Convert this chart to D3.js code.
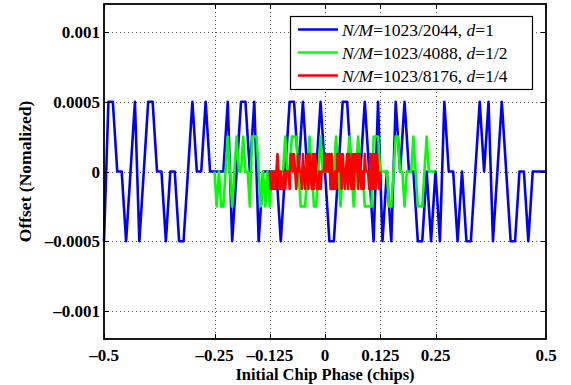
<!DOCTYPE html>
<html>
<head>
<meta charset="utf-8">
<script src="https://cdn.jsdelivr.net/npm/d3@7"></script>
<style>
  body { margin: 0; background: #fff; }
  text { font-family: "Liberation Serif", "Times New Roman", serif; }
</style>
</head>
<body>
<div id="chart"></div>
<script>
// tick values / labels
var xTicks = [-0.5, -0.25, -0.125, 0, 0.125, 0.25, 0.5];
var xTickLabels = ["\u20130.5", "\u20130.25", "\u20130.125", "0", "0.125", "0.25", "0.5"];
var yTicks = [-0.001, -0.0005, 0, 0.0005, 0.001];
var yTickLabels = ["\u20130.001", "\u20130.0005", "0", "0.0005", "0.001"];

// series: first phase and phase step of each curve
var seriesStart = [-0.5, -0.25, -0.125];
var seriesStep = [0.01, 0.005, 0.0025];
var seriesColors = ["#0000ff", "#00ff00", "#ff0000"];
var seriesNM = ["1023/2044", "1023/4088", "1023/8176"];
var seriesD = ["1", "1/2", "1/4"];

// offsets
var blueOffset = [
  -5e-4, 5e-4, 5e-4, 0, 0, -5e-4, 0, 5e-4, -5e-4, 0,
  5e-4, 5e-4, 0, 0, -5e-4, 0, 0, -5e-4, -5e-4, 0,
  5e-4, 0, 0, 5e-4, 0, 0, 0, 0, 5e-4, -5e-4,
  0, 5e-4, 5e-4, 0, 5e-4, -5e-4, 0, 0, 0, 0,
  -5e-4, 0, 5e-4, 5e-4, 0, 5e-4, 0, 0, 0, 5e-4,
  0, -5e-4, -5e-4, 0, 5e-4, 5e-4, 0, 0, 0, 5e-4,
  0, -5e-4, 5e-4, -5e-4, 0, -5e-4, 5e-4, 0, 5e-4, 0,
  0, -5e-4, -5e-4, 0, -5e-4, 0, -5e-4, 5e-4, 0, 0,
  -5e-4, 0, -5e-4, -5e-4, 0, 5e-4, 0, 5e-4, -5e-4, 0,
  5e-4, 0, -5e-4, -5e-4, 0, 0, -5e-4, 0, 0, 0,
  0
];
var greenOffset = [
  0, -2.5e-4, 0, -2.5e-4, -2.5e-4, 0, 2.5e-4, 0, -2.5e-4, 0,
  2.5e-4, 0, 0, 2.5e-4, 0, 0, -2.5e-4, 2.5e-4, 2.5e-4, 2.5e-4,
  0, -2.5e-4, 0, -2.5e-4, 0, -2.5e-4, 0, 0, 0, 0,
  0, 0, 2.5e-4, 0, 0, 2.5e-4, 2.5e-4, 2.5e-4, 0, -2.5e-4,
  -2.5e-4, -2.5e-4, 0, 2.5e-4, 0, -2.5e-4, -2.5e-4, 0, 2.5e-4, 0,
  0, 0, 0, 0, 0, 2.5e-4, 0, -2.5e-4, 0, 0,
  0, 2.5e-4, 0, -2.5e-4, 0, 2.5e-4, 0, 0, -2.5e-4, -2.5e-4,
  -2.5e-4, -2.5e-4, 2.5e-4, 2.5e-4, 2.5e-4, 0, 0, 0, 0, -2.5e-4,
  -2.5e-4, 0, 2.5e-4, 2.5e-4, 0, 0, -2.5e-4, 0, 0, 0,
  2.5e-4, 0, -2.5e-4, -2.5e-4, -2.5e-4, 0, 2.5e-4, 0, 0, 0,
  0
];
var redOffset = [
  0, -1.25e-4, 0, -1.25e-4, 0, -1.25e-4, 0, 1.25e-4, 0, -1.25e-4,
  0, -1.25e-4, -1.25e-4, 0, -1.25e-4, 0, 0, 0, -1.25e-4, 1.25e-4,
  1.25e-4, 0, 1.25e-4, 0, -1.25e-4, 0, 1.25e-4, 0, 0, -1.25e-4,
  1.25e-4, 0, -1.25e-4, 0, 1.25e-4, -1.25e-4, 1.25e-4, 0, -1.25e-4, 1.25e-4,
  -1.25e-4, 1.25e-4, 0, -1.25e-4, -1.25e-4, 0, -1.25e-4, 0, 0, 0,
  1.25e-4, 0, 1.25e-4, 0, 1.25e-4, -1.25e-4, 1.25e-4, -1.25e-4, -1.25e-4, 0,
  -1.25e-4, 1.25e-4, 0, 1.25e-4, 1.25e-4, -1.25e-4, 1.25e-4, 0, -1.25e-4, 0,
  1.25e-4, -1.25e-4, 1.25e-4, 0, -1.25e-4, 1.25e-4, -1.25e-4, 1.25e-4, 0, 1.25e-4,
  -1.25e-4, 1.25e-4, 0, -1.25e-4, 0, -1.25e-4, 1.25e-4, 0, 0, 0,
  -1.25e-4, 1.25e-4, -1.25e-4, 1.25e-4, -1.25e-4, 1.25e-4, -1.25e-4, 1.25e-4, 0, -1.25e-4,
  0
];
var seriesOffsets = [blueOffset, greenOffset, redOffset];

var width = 571,
    height = 385,
    plot = {left: 104, right: 546, top: 4, bottom: 339};

var svg = d3.select("#chart").append("svg")
  .attr("width", width)
  .attr("height", height)
  .style("display", "block");

svg.append("rect").attr("width", width).attr("height", height).attr("fill", "#fff");

var x = d3.scaleLinear().domain([-0.5, 0.5]).range([plot.left, plot.right]);
var y = d3.scaleLinear().domain([-0.0012, 0.0012]).range([plot.bottom, plot.top]);

// dotted grid
var grid = svg.append("g").attr("stroke", "#555").attr("stroke-width", 1)
  .attr("stroke-dasharray", "1,3");
grid.selectAll(".gx").data(xTicks.slice(1, -1)).enter().append("line")
  .attr("x1", function(d){ return Math.round(x(d)) + 0.5; })
  .attr("x2", function(d){ return Math.round(x(d)) + 0.5; })
  .attr("y1", plot.top).attr("y2", plot.bottom);
grid.selectAll(".gy").data(yTicks).enter().append("line")
  .attr("y1", function(d){ return Math.round(y(d)) + 0.5; })
  .attr("y2", function(d){ return Math.round(y(d)) + 0.5; })
  .attr("x1", plot.left).attr("x2", plot.right);

// curves
var line = d3.line()
  .x(function(d){ return x(d[0]); })
  .y(function(d){ return y(d[1]); });

seriesOffsets.forEach(function(vals, s){
  var pts = vals.map(function(v, i){ return [seriesStart[s] + i * seriesStep[s], v]; });
  svg.append("path")
    .datum(pts)
    .attr("d", line)
    .attr("fill", "none")
    .attr("stroke", seriesColors[s])
    .attr("stroke-width", 2.6)
    .attr("stroke-linejoin", "round");
});

// ticks on all four sides
var tl = 5;
var ticks = svg.append("g").attr("stroke", "#000").attr("stroke-width", 1);
xTicks.forEach(function(t){
  var px = Math.round(x(t)) + 0.5;
  ticks.append("line").attr("x1", px).attr("x2", px).attr("y1", plot.bottom).attr("y2", plot.bottom - tl);
  ticks.append("line").attr("x1", px).attr("x2", px).attr("y1", plot.top).attr("y2", plot.top + tl);
});
yTicks.forEach(function(t){
  var py = Math.round(y(t)) + 0.5;
  ticks.append("line").attr("y1", py).attr("y2", py).attr("x1", plot.left).attr("x2", plot.left + tl);
  ticks.append("line").attr("y1", py).attr("y2", py).attr("x1", plot.right).attr("x2", plot.right - tl);
});

// axes box
svg.append("rect")
  .attr("x", plot.left).attr("y", plot.top)
  .attr("width", plot.right - plot.left).attr("height", plot.bottom - plot.top)
  .attr("fill", "none").attr("stroke", "#000").attr("stroke-width", 1.8);

// tick labels
svg.selectAll(".xl").data(xTicks).enter().append("text")
  .attr("x", function(d){ return x(d); })
  .attr("y", 361)
  .attr("text-anchor", "middle")
  .attr("font-size", 17).attr("font-weight", "bold")
  .text(function(d, i){ return xTickLabels[i]; });

svg.selectAll(".yl").data(yTicks).enter().append("text")
  .attr("x", plot.left - 4)
  .attr("y", function(d){ return y(d) + 6; })
  .attr("text-anchor", "end")
  .attr("font-size", 17).attr("font-weight", "bold")
  .text(function(d, i){ return yTickLabels[i]; });

// axis titles
svg.append("text")
  .attr("x", (plot.left + plot.right) / 2).attr("y", 380)
  .attr("text-anchor", "middle")
  .attr("font-size", 16.5).attr("font-weight", "bold")
  .text("Initial Chip Phase (chips)");

svg.append("text")
  .attr("transform", "translate(31," + (plot.top + plot.bottom) / 2 + ") rotate(-90)")
  .attr("text-anchor", "middle")
  .attr("font-size", 17.5).attr("font-weight", "bold")
  .text("Offset (Nomalized)");

// legend
var lg = svg.append("g");
lg.append("rect")
  .attr("x", 290.5).attr("y", 16.5).attr("width", 242).attr("height", 73)
  .attr("fill", "#fff").attr("stroke", "#000").attr("stroke-width", 1.2);

seriesColors.forEach(function(c, s){
  var ly = 29.5 + s * 23;
  lg.append("line")
    .attr("x1", 298).attr("x2", 338).attr("y1", ly).attr("y2", ly)
    .attr("stroke", c).attr("stroke-width", 2.6);
  var t = lg.append("text")
    .attr("x", 342).attr("y", ly + 6)
    .attr("font-size", 17.5);
  t.append("tspan").attr("font-style", "italic").text("N/M");
  t.append("tspan").text("=" + seriesNM[s] + ", ");
  t.append("tspan").attr("font-style", "italic").text("d");
  t.append("tspan").text("=" + seriesD[s]);
});
</script>
</body>
</html>
